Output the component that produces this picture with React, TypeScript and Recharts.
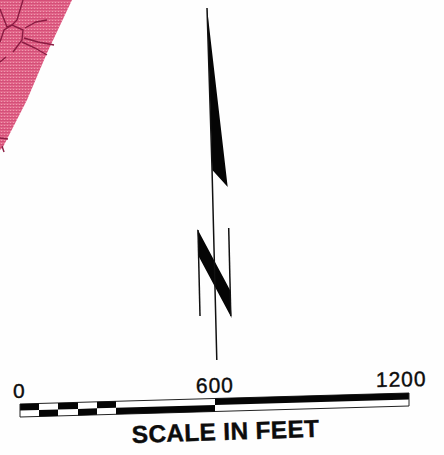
import React from "react";
import { ComposedChart, Area, Line, Scatter, XAxis, YAxis } from "recharts";

type Pt = { x: number; band: [number, number] };
const pt = (x: number, a: number, b: number): Pt => ({ x, band: [a, b] });

// Map corner (left top)
const pinkCorner: Pt[] = [pt(0, 0, 150), pt(3, 0, 147), pt(27, 0, 100), pt(47, 0, 53), pt(72, 0, 0)];
const veins: [number, number][][] = [
  [[23, 0], [17, 20], [12, 25], [4, 30], [0, 42]],
  [[0, 9], [7, 27], [12, 25], [23, 30], [22, 40], [13, 52]],
  [[24, 38], [38, 42], [54, 45]],
  [[22, 42], [35, 48], [47, 55]],
  [[25, 28], [36, 22], [47, 20]],
  [[0, 62], [6, 57]],
  [[0, 138], [8, 139]],
  [[2, 146], [4, 152]],
];

// North arrow
const blade: Pt[] = [pt(207, 8, 8), pt(212.3, 54, 170), pt(227.7, 187, 187)];
const diagonal: Pt[] = [pt(197.5, 229, 229), pt(199, 232, 257), pt(230, 290, 315), pt(231.5, 318, 318)];
const shaft = [{ x: 207, y: 8 }, { x: 212, y: 168 }, { x: 216.8, y: 360 }];
const leftStem = [{ x: 198, y: 230 }, { x: 200, y: 316 }];
const rightStem = [{ x: 228.7, y: 228 }, { x: 230.8, y: 316 }];

// Scale bar
const barBack: Pt[] = [pt(20, 404, 417), pt(409, 393, 406)];
const barBlocks: Pt[][] = [
  [pt(20, 404, 410.5), pt(39, 403.5, 410)],
  [pt(39, 410, 416.5), pt(58, 409.5, 416)],
  [pt(58, 403, 409.5), pt(78, 402.4, 408.9)],
  [pt(78, 408.9, 415.4), pt(97, 408.3, 414.8)],
  [pt(97, 401.8, 408.3), pt(116, 401.3, 407.8)],
  [pt(116, 407.8, 414.3), pt(215, 405, 411.5)],
  [pt(215, 398.5, 405), pt(409, 393, 399.5)],
];
const barEnds = [
  [{ x: 20, y: 404 }, { x: 20, y: 417 }],
  [{ x: 409, y: 393 }, { x: 409, y: 406 }],
];

const labels = [
  { x: 13, y: 398, text: "0", size: 21, weight: 400, rot: 0, spacing: 0 },
  { x: 196, y: 393, text: "600", size: 21, weight: 400, rot: -1, spacing: 1 },
  { x: 376, y: 387, text: "1200", size: 21, weight: 400, rot: -1, spacing: 1 },
  { x: 132, y: 443, text: "SCALE IN FEET", size: 24.5, weight: 700, rot: -1.9, spacing: 0.3 },
];

const LabelShape = (p: any) => {
  const d = p.payload;
  return (
    <text
      x={p.cx}
      y={p.cy}
      fontFamily="'Liberation Sans', sans-serif"
      fontSize={d.size}
      fontWeight={d.weight}
      textAnchor="start"
      letterSpacing={d.spacing}
      fill="#0c0c0c"
      stroke="#0c0c0c"
      strokeWidth={0.4}
      transform={`rotate(${d.rot} ${p.cx} ${p.cy})`}
    >
      {d.text}
    </text>
  );
};

export default function App() {
  return (
    <div style={{ position: "absolute", left: 0, top: 0, width: 444, height: 455, background: "#fefefe" }}>
      <ComposedChart width={444} height={455} margin={{ top: 0, right: 0, bottom: 0, left: 0 }} data={barBack}>
        <defs>
          <pattern id="halftone" width="3" height="3" patternUnits="userSpaceOnUse">
            <rect width="3" height="3" fill="#e2668a" />
            <rect width="3" height="1" fill="#d44f78" />
            <rect x="1" y="2" width="1" height="1" fill="#ee9aae" />
          </pattern>
        </defs>
        <XAxis type="number" dataKey="x" domain={[0, 444]} hide allowDataOverflow />
        <YAxis type="number" domain={[0, 455]} reversed hide allowDataOverflow />
        <Area data={pinkCorner} dataKey="band" fill="url(#halftone)" fillOpacity={1} stroke="none" isAnimationActive={false} dot={false} activeDot={false} />
        {veins.map((v, i) => (
          <Line key={i} data={v.map(([x, y]) => ({ x, y }))} dataKey="y" stroke="#8a1c42" strokeWidth={1.4} dot={false} activeDot={false} isAnimationActive={false} />
        ))}
        <Line data={shaft} dataKey="y" stroke="#111" strokeWidth={1.5} dot={false} activeDot={false} isAnimationActive={false} />
        <Line data={leftStem} dataKey="y" stroke="#111" strokeWidth={1.5} dot={false} activeDot={false} isAnimationActive={false} />
        <Line data={rightStem} dataKey="y" stroke="#111" strokeWidth={1.5} dot={false} activeDot={false} isAnimationActive={false} />
        <Area data={blade} dataKey="band" fill="#050505" fillOpacity={1} stroke="none" isAnimationActive={false} dot={false} activeDot={false} />
        <Area data={diagonal} dataKey="band" fill="#050505" fillOpacity={1} stroke="none" isAnimationActive={false} dot={false} activeDot={false} />
        <Area data={barBack} dataKey="band" fill="#ffffff" fillOpacity={1} stroke="#222" strokeWidth={1} isAnimationActive={false} dot={false} activeDot={false} />
        {barBlocks.map((b, i) => (
          <Area key={i} data={b} dataKey="band" fill="#050505" fillOpacity={1} stroke="none" isAnimationActive={false} dot={false} activeDot={false} />
        ))}
        {barEnds.map((e, i) => (
          <Line key={i} data={e} dataKey="y" stroke="#222" strokeWidth={1} dot={false} activeDot={false} isAnimationActive={false} />
        ))}
        <Scatter data={labels} dataKey="y" shape={LabelShape} isAnimationActive={false} />
      </ComposedChart>
    </div>
  );
}
